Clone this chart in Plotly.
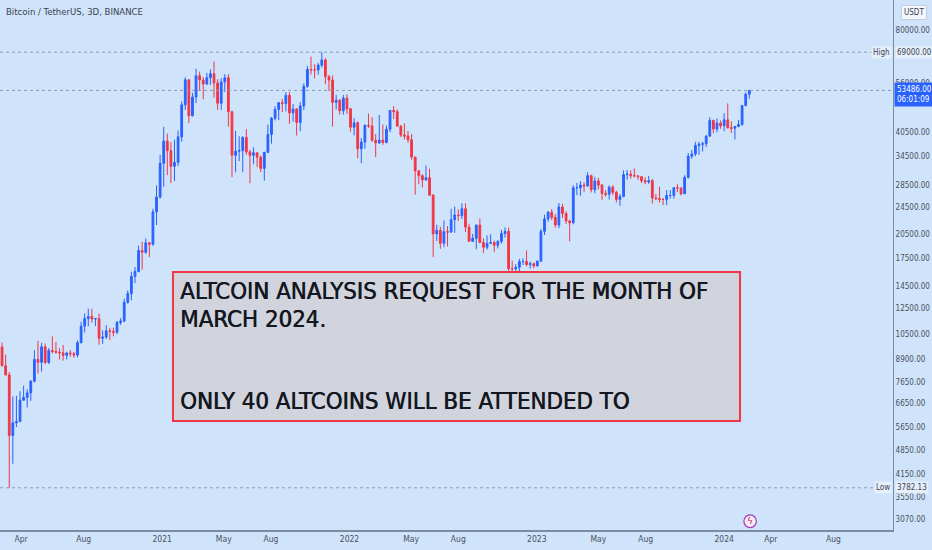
import math
import plotly.graph_objects as go
import pandas as pd

# BTC/USDT weekly candles (week starting Monday)
first_open = 9920
week_start = pd.date_range('2020-02-17', periods=210, freq='W-MON')

close_px = [
    # 2020
    9660, 8530, 8030, 5360, 5830, 5880, 6780, 6910, 7120, 7700, 8900, 8730, 9680, 8720, 9450, 9380,
    9340, 9300, 9140, 9290, 9250, 9160, 9950, 11110, 11680, 11850, 11650, 11680, 10250, 10330, 10770,
    10730, 10670, 11380, 11500, 13030, 13800, 15480, 16000, 18400, 18180, 19370, 19170, 23800, 26280, 32900,
    # 2021
    38150, 35800, 32250, 33100, 39250, 48580, 57400, 45150, 51200, 59000, 57350, 55800, 58200, 59770,
    56200, 49100, 56600, 58200, 46400, 34700, 35650, 35800, 39100, 35500, 34700, 35300, 34250, 31800,
    35400, 39850, 44400, 47100, 49300, 49000, 51750, 46050, 47250, 43200, 48200, 54950, 61500, 61300,
    61300, 63300, 65500, 58600, 57300, 49400, 50100, 46700, 50800, 47300,
    # 2022
    41850, 43100, 36250, 37900, 42400, 42200, 38350, 37700, 38400, 37800, 41300, 46800, 46400, 42150,
    39700, 39450, 38500, 34300, 31300, 30300, 29450, 29900, 26600, 20550, 21050, 19300, 20850, 20800,
    22600, 23300, 23200, 24300, 21500, 19550, 19950, 21800, 19400, 18800, 19300, 19400, 19050, 19550,
    20600, 20900, 16300, 16280, 16450, 17100, 17100, 16750, 16850, 16600,
    # 2023
    17130, 20900, 22700, 23750, 22950, 21800, 24600, 23550, 22400, 22150, 27950, 27950, 28450, 28300,
    30300, 27600, 29250, 28450, 26900, 26750, 28050, 27100, 25850, 26350, 30500, 30600, 30300, 30250,
    30100, 29300, 29050, 29300, 26100, 26000, 25850, 25850, 26550, 26550, 27950, 27900, 26850, 29950,
    34500, 35000, 37050, 37350, 37450, 39450, 43800, 41350, 43000, 42250,
    # 2024
    43950, 41700, 41550, 42050, 42600, 48300, 52150, 53486,
]

high_px = [
    10250, 9960, 9190, 8180, 6950, 6980, 7200, 7470, 7290, 7740, 9460, 10070, 9950, 9900, 9600, 10380,
    9990, 9590, 9800, 9370, 9470, 9350, 10100, 11450, 12090, 12480, 12470, 11720, 12090, 10800, 11180,
    10990, 11000, 11500, 11720, 13350, 14100, 15960, 16480, 19000, 19500, 19920, 19420, 24300, 28400, 34800,
    41950, 40100, 37850, 38500, 40950, 49700, 58350, 57500, 52640, 61850, 60630, 58400, 60100, 61500,
    64850, 57600, 58000, 59600, 59600, 46700, 40840, 39400, 39400, 41330, 36000, 36600, 35100, 34650,
    35500, 42600, 44800, 48150, 49500, 50500, 52900, 52950, 48850, 47450, 49500, 56100, 62900, 67000,
    63700, 64300, 69000, 66400, 59300, 59100, 51950, 50500, 51900, 52100,
    47600, 44500, 43500, 38900, 42650, 45850, 44750, 40000, 45400, 42600, 42300, 46900, 48200, 47100,
    42450, 42950, 40800, 40000, 34250, 31350, 30600, 32400, 31750, 26800, 21850, 21550, 22500, 21650,
    24300, 24650, 24200, 25200, 25200, 22000, 20550, 21850, 22800, 19950, 20350, 20500, 19650, 19700,
    21100, 21450, 21450, 17200, 16800, 17400, 17450, 18400, 17100, 16950,
    17200, 21250, 23350, 23950, 24250, 23450, 25250, 25100, 23900, 22600, 28400, 28850, 29200, 29000,
    31000, 30500, 30050, 29850, 28650, 27500, 28400, 28450, 27400, 26800, 31400, 31450, 31400, 31800,
    30450, 30100, 30000, 30250, 29650, 26800, 28150, 26100, 27500, 27500, 28050, 28600, 28000, 30400,
    35250, 35950, 37950, 37950, 38000, 39700, 44700, 44000, 44400, 43800,
    45900, 49050, 43550, 42200, 43900, 48550, 52800, 53600,
]

low_px = [
    9450, 8500, 8000, 3782.13, 4440, 5670, 5860, 6780, 6460, 6750, 7630, 8100, 8200, 8620, 8630, 9260,
    9240, 8890, 8830, 8900, 9050, 9000, 9020, 9900, 10650, 11100, 11370, 11120, 9820, 9880, 10200,
    10130, 10380, 10530, 11200, 11400, 12900, 13200, 14800, 15900, 16200, 18000, 17600, 19000, 21800, 26000,
    28130, 30420, 28850, 29240, 32300, 37990, 47000, 43000, 45000, 49150, 53300, 50400, 55500, 55470,
    51000, 47000, 47000, 52900, 42000, 30000, 31000, 33400, 31000, 34800, 28800, 32700, 32100, 31000,
    29300, 35200, 37500, 43800, 43900, 46300, 46500, 42800, 43400, 39600, 40750, 46900, 54400, 59500,
    58000, 59400, 62300, 55700, 53250, 42000, 47100, 45500, 45500, 45700,
    40600, 39650, 34000, 32900, 36250, 41650, 38000, 34300, 37400, 37200, 37600, 40500, 44200, 42100,
    39200, 38550, 37700, 33700, 26700, 28600, 28000, 29300, 26550, 17600, 19600, 18600, 18800, 18900,
    20700, 20700, 22400, 22700, 20800, 19550, 19550, 18550, 19300, 18100, 18500, 19200, 18200, 18650,
    19250, 20050, 15600, 15800, 15480, 16000, 16700, 16550, 16300, 16330,
    16550, 17100, 20400, 22300, 22550, 21400, 21350, 22850, 21950, 19550, 21900, 26600, 26500, 27200,
    28150, 27100, 26950, 27650, 25800, 26350, 25850, 26600, 25350, 24800, 26250, 29500, 29700, 29950,
    29500, 28850, 28600, 28700, 25150, 25750, 25350, 24900, 24900, 26000, 26000, 27150, 26550, 26800,
    29700, 33900, 34500, 34800, 35600, 36700, 39200, 40200, 40500, 41400,
    40750, 41500, 40250, 38550, 41850, 42250, 48300, 50600,
]

open_px = [first_open] + close_px[:-1]

price_ticks = [80000, 69000, 56000, 40500, 34500, 28500, 24500, 20500, 17500, 14500, 12500,
               10500, 8900, 7650, 6650, 5650, 4850, 4150, 3550, 3070]
date_ticks = ['2020-04-01', '2020-08-01', '2021-01-01', '2021-05-01', '2021-08-01', '2022-01-01',
              '2022-05-01', '2022-08-01', '2023-01-01', '2023-05-01', '2023-08-01', '2024-01-01',
              '2024-04-01', '2024-08-01']
date_labels = ['Apr', 'Aug', '2021', 'May', 'Aug', '2022', 'May', 'Aug', '2023', 'May', 'Aug',
               '2024', 'Apr', 'Aug']

all_time_high = 69000
period_low = 3782.13
last_price = close_px[-1]

bg = '#cfe4fa'
up_col = '#2962ff'
down_col = '#f23645'
cond = 'DejaVu Sans Condensed'

fig = go.Figure()

fig.add_trace(go.Candlestick(
    x=week_start,
    open=open_px, high=high_px, low=low_px, close=close_px,
    increasing=dict(line=dict(color=up_col, width=1), fillcolor=up_col),
    decreasing=dict(line=dict(color=down_col, width=1), fillcolor=down_col),
    whiskerwidth=0,
    showlegend=False,
    hoverinfo='skip',
))

# dotted reference lines: high, last price, low
for lvl in [all_time_high, last_price, period_low]:
    fig.add_shape(type='line', xref='paper', x0=0, x1=1, yref='y', y0=lvl, y1=lvl,
                  line=dict(color='#8d9bb0', width=1, dash='dot'))

# text box
fig.add_shape(type='rect', xref='paper', yref='paper', x0=0.1937, x1=0.8287, y0=0.2057, y1=0.4868,
              fillcolor='#d1d4dc', line=dict(color='#f23645', width=2), layer='above')

box_font = dict(family=cond, size=23.8, color='#131722', shadow='0.6px 0px 0px #131722')
for txt, yy in [('ALTCOIN ANALYSIS REQUEST FOR THE MONTH OF', 0.451),
                ('MARCH 2024.', 0.399),
                ('ONLY 40 ALTCOINS WILL BE ATTENDED TO', 0.244)]:
    fig.add_annotation(text=txt, xref='paper', yref='paper', x=0.1995, y=yy, xanchor='left',
                       yanchor='middle', showarrow=False, font=box_font)

# header
fig.add_annotation(text='Bitcoin / TetherUS, 3D, BINANCE', xref='paper', yref='paper', x=0.004, y=0.979,
                   xanchor='left', yanchor='middle', showarrow=False,
                   font=dict(family=cond, size=9.5, color='#3b4252'))

# right scale labels (annotations on a log axis take log10 positions)
side_font = dict(family=cond, size=8, color='#3b4252')
fig.add_annotation(text='USDT', xref='paper', yref='paper', x=1.0235, y=0.977, xanchor='center',
                   yanchor='middle', showarrow=False, font=side_font, bgcolor='#f2f7fd',
                   bordercolor='#c4cdd9', borderwidth=1, borderpad=2)
for name, lvl in [('High', all_time_high), ('Low', period_low)]:
    fig.add_annotation(text=name, xref='paper', yref='y', x=0.999, y=math.log10(lvl), xanchor='right',
                       yanchor='middle', showarrow=False, font=side_font, bgcolor='#e6f0fb', borderpad=1)
    fig.add_annotation(text='%.2f' % lvl, xref='paper', yref='y', x=1.002, y=math.log10(lvl),
                       xanchor='left', yanchor='middle', showarrow=False, font=side_font,
                       bgcolor='#e6f0fb', borderpad=1)
fig.add_annotation(text='%.2f<br>06:01:09' % last_price, xref='paper', yref='y', x=1.001,
                   y=math.log10(last_price), xanchor='left', yanchor='top', yshift=8, showarrow=False,
                   align='left', font=dict(family=cond, size=8, color='white'),
                   bgcolor=up_col, borderpad=2)

# event marker near the bottom
fig.add_shape(type='circle', xref='paper', yref='paper', x0=0.833, x1=0.847, y0=0.0045, y1=0.0285,
              line=dict(color='#a23bb5', width=1.2), fillcolor='#f4ecf7')
fig.add_annotation(text='ϟ', xref='paper', yref='paper', x=0.84, y=0.0165, xanchor='center',
                   yanchor='middle', showarrow=False,
                   font=dict(family='DejaVu Sans', size=9, color='#c2185b'))

fig.update_layout(
    template='none',
    width=932, height=550,
    margin=dict(l=0, r=39, t=0, b=20, pad=0),
    paper_bgcolor=bg, plot_bgcolor=bg,
    showlegend=False,
    xaxis=dict(
        range=['2020-02-20', '2024-11-25'],
        rangeslider=dict(visible=False),
        tickvals=date_ticks, ticktext=date_labels,
        tickfont=dict(family=cond, size=8.5, color='#4a5060'),
        showgrid=False, zeroline=False, automargin=False,
        showline=True, linecolor='#7d8ba0', linewidth=2,
        ticks='',
    ),
    yaxis=dict(
        type='log', side='right',
        range=[3.4555, 4.9900],
        tickvals=price_ticks, ticktext=['%.2f' % t for t in price_ticks],
        tickfont=dict(family=cond, size=8, color='#4a5060'),
        showgrid=False, zeroline=False, automargin=False,
        showline=True, linecolor='#7d8ba0', linewidth=1,
        ticks='',
    ),
)

fig.write_html('out.html', config={'displayModeBar': False},
               post_script="document.body.style.margin='0';document.body.style.padding='0';")
